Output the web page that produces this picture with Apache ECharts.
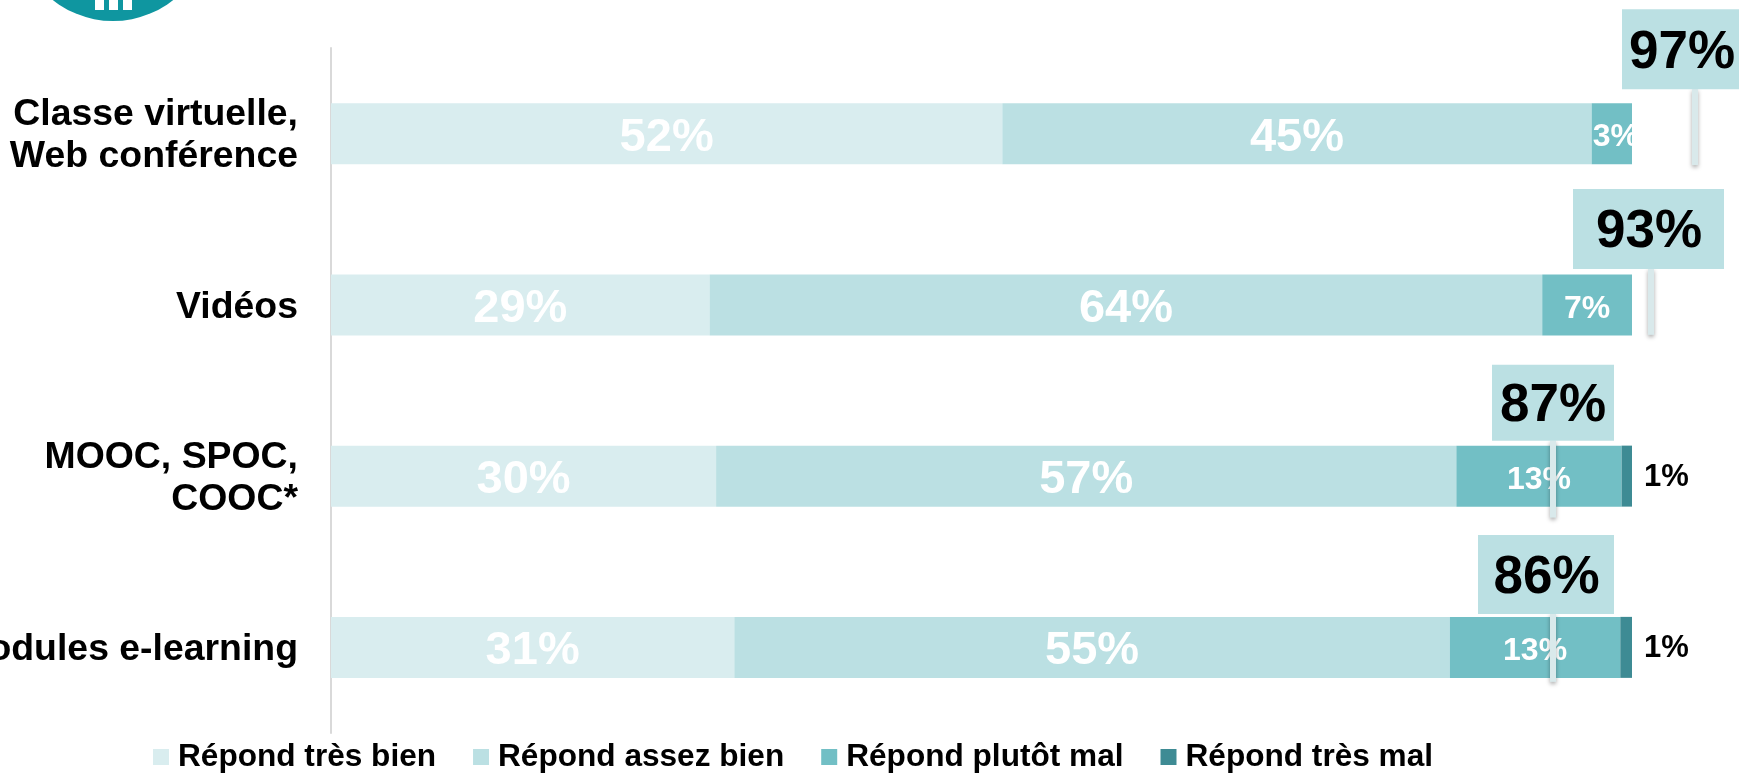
<!DOCTYPE html>
<html><head><meta charset="utf-8">
<style>html,body{margin:0;padding:0;background:#fff;overflow:hidden}#c{width:1739px;height:773px}</style>
<script src="https://cdn.jsdelivr.net/npm/echarts@6/dist/echarts.min.js"></script>
</head><body><div id="c"></div>
<script>
const categories = ['Classe virtuelle,\nWeb conférence', 'Vidéos', 'MOOC, SPOC,\nCOOC*', 'Modules e-learning'];
const seriesNames = ['Répond très bien', 'Répond assez bien', 'Répond plutôt mal', 'Répond très mal'];
const tresBien = [51.6, 29.1, 29.6, 31.0];
const assezBien = [45.3, 64.0, 56.9, 55.0];
const plutotMal = [3.1, 6.9, 12.7, 13.1];
const tresMal = [0, 0, 0.8, 0.9];
const totals = [97, 93, 87, 86];

const colors = ['#d9edef', '#bbe0e3', '#72bfc5', '#3e8b94'];
const FONT = '"Liberation Sans", Arial, sans-serif';
// Callout offsets in pixels from the end of each bar
const calloutBox = [[-10, -124.5, 124, 80], [-59, -116, 151, 80], [-140, -111.5, 122, 76], [-154, -112.5, 136, 79]];
const calloutStem = [[63, -44.5, 31.5], [19, -36, 30], [-79, -35.5, 41.5], [-79, -33.5, 34.5]];
const calloutTextX = [50, 17, -79, -85.5];
const big = 47, small = 32;

function stackedBar(name, data, i) {
  return {
    name, type: 'bar', stack: 'total', barWidth: 61,
    itemStyle: { color: colors[i] },
    data: data.map(v => ({
      value: v,
      label: { fontSize: v >= 20 ? big : small, offset: [v < 4 ? 4 : 0, 4] }
    })),
    label: {
      show: true, position: 'inside', color: '#fff',
      fontFamily: FONT, fontWeight: 'bold',
      formatter: p => Math.round(p.value) + '%'
    }
  };
}

const option = {
  animation: false,
  backgroundColor: '#fff',
  grid: { left: 331, right: 107, top: 48, bottom: 40, outerBoundsMode: 'none' },
  legend: {
    left: 153, top: 741, padding: 0, itemWidth: 16, itemHeight: 16, itemGap: 37, icon: 'rect',
    data: seriesNames,
    textStyle: { fontFamily: FONT, fontWeight: 'bold', fontSize: 31.6, color: '#000', padding: [0, 0, 0, 4] }
  },
  xAxis: { type: 'value', min: 0, max: 100, show: false },
  yAxis: {
    type: 'category', inverse: true, data: categories,
    axisLine: { show: true, lineStyle: { color: '#d9d9d9', width: 2 } },
    axisTick: { show: false },
    axisLabel: {
      align: 'right', margin: 33,
      formatter: v => v.split('\n').map(l => '{a|' + l + '}').join('\n'),
      rich: {
        a: {
          fontFamily: FONT, fontWeight: 'bold', fontSize: 37.4, lineHeight: 42, color: '#000',
          padding: [5, 0, 0, 0]
        }
      }
    }
  },
  series: [
    stackedBar(seriesNames[0], tresBien, 0),
    stackedBar(seriesNames[1], assezBien, 1),
    stackedBar(seriesNames[2], plutotMal, 2),
    {
      name: seriesNames[3], type: 'bar', stack: 'total', barWidth: 61,
      itemStyle: { color: colors[3] },
      data: tresMal,
      label: {
        show: true, position: 'right', distance: 12, offset: [0, 1], color: '#000',
        fontFamily: FONT, fontWeight: 'bold', fontSize: 31,
        formatter: p => p.value > 0 ? Math.round(p.value) + '%' : ''
      }
    },
    {
      type: 'custom', z: 10, silent: true, clip: false,
      encode: { x: 0, y: 1 },
      data: totals.map((t, i) => [100, i, t]),
      renderItem(params, api) {
        const i = params.dataIndex;
        const end = api.coord([api.value(0), api.value(1)]);
        const b = calloutBox[i], s = calloutStem[i];
        return {
          type: 'group',
          children: [
            {
              type: 'rect', z2: 1,
              shape: { x: end[0] + s[0] - 3, y: end[1] + s[1], width: 6, height: s[2] - s[1] },
              style: { fill: '#d9e9eb', shadowColor: 'rgba(0,0,0,0.35)', shadowBlur: 4, shadowOffsetY: 2 }
            },
            {
              type: 'rect', z2: 2,
              shape: { x: end[0] + b[0], y: end[1] + b[1], width: b[2], height: b[3] },
              style: { fill: '#bbe0e3' }
            },
            {
              type: 'text', z2: 3,
              style: {
                x: end[0] + calloutTextX[i], y: end[1] + b[1] + b[3] / 2 + 4,
                text: api.value(2) + '%', fill: '#000',
                font: 'bold 53px ' + FONT, align: 'center', verticalAlign: 'middle'
              }
            }
          ]
        };
      }
    }
  ],
  graphic: [
    { type: 'circle', silent: true, shape: { cx: 113, cy: -76, r: 97 }, style: { fill: '#0f96a0' } },
    { type: 'rect', silent: true, shape: { x: 95, y: 0, width: 9, height: 10 }, style: { fill: '#fff' } },
    { type: 'rect', silent: true, shape: { x: 109, y: 0, width: 9, height: 10 }, style: { fill: '#fff' } },
    { type: 'rect', silent: true, shape: { x: 123, y: 0, width: 9, height: 10 }, style: { fill: '#fff' } }
  ]
};
echarts.init(document.getElementById('c'), null, { renderer: 'canvas' }).setOption(option);
</script></body></html>
